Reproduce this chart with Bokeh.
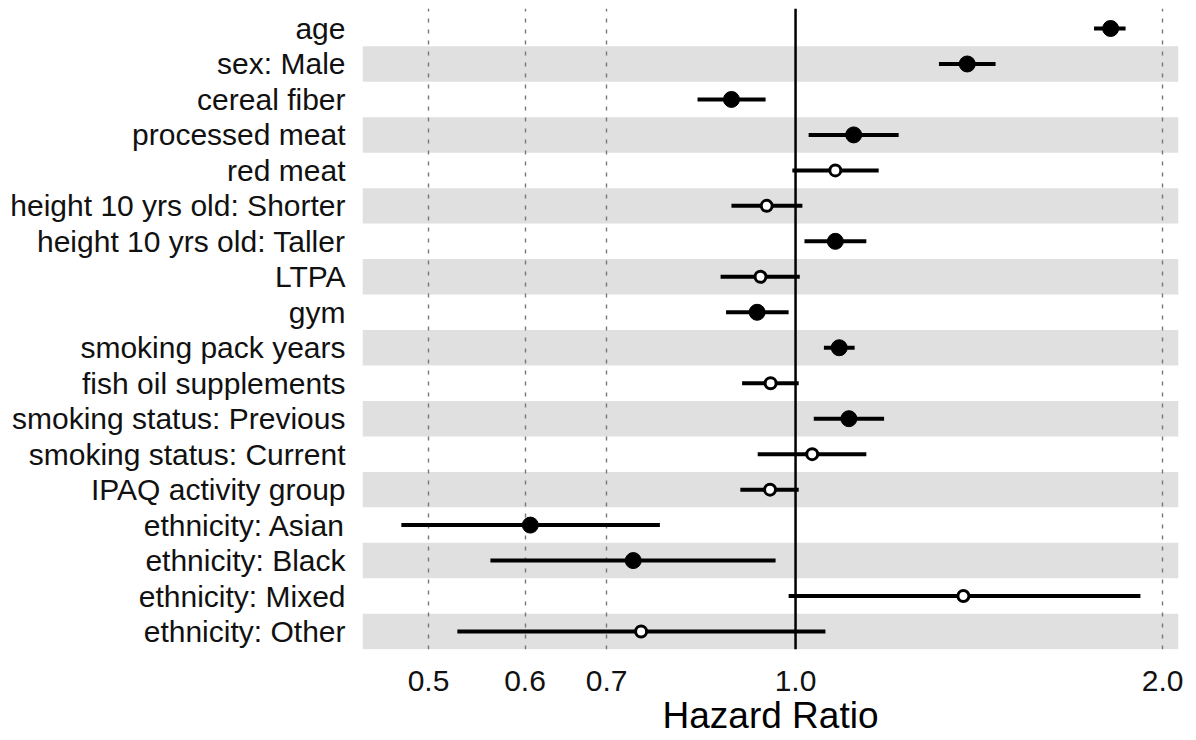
from bokeh.plotting import figure
from bokeh.models import (FixedTicker, CustomJSTickFormatter, Span, BoxAnnotation,
                          ColumnDataSource)
from bokeh.embed import file_html
from bokeh.resources import INLINE

labels = [
    "age", "sex: Male", "cereal fiber", "processed meat", "red meat",
    "height 10 yrs old: Shorter", "height 10 yrs old: Taller", "LTPA", "gym",
    "smoking pack years", "fish oil supplements", "smoking status: Previous",
    "smoking status: Current", "IPAQ activity group", "ethnicity: Asian",
    "ethnicity: Black", "ethnicity: Mixed", "ethnicity: Other",
]
hr = [1.813, 1.383, 0.886, 1.116, 1.078, 0.947, 1.078, 0.936, 0.930,
      1.086, 0.954, 1.106, 1.032, 0.953, 0.606, 0.736, 1.373, 0.747]
lo = [1.757, 1.311, 0.831, 1.025, 0.994, 0.886, 1.017, 0.868, 0.877,
      1.055, 0.904, 1.035, 0.931, 0.901, 0.475, 0.562, 0.987, 0.528]
hi = [1.865, 1.459, 0.945, 1.215, 1.170, 1.013, 1.143, 1.008, 0.987,
      1.118, 1.006, 1.182, 1.143, 1.006, 0.774, 0.963, 1.918, 1.058]
x_ticks = [0.5, 0.6, 0.7, 1.0, 2.0]
ref_value = 1.0
x_label = "Hazard Ratio"

FONT = "Liberation Sans"
n = len(labels)
ypos = list(range(n - 1, -1, -1))
sig = [(l > ref_value) or (h < ref_value) for l, h in zip(lo, hi)]

src = ColumnDataSource(dict(y=ypos, hr=hr, lo=lo, hi=hi))
src_f = ColumnDataSource(dict(y=[y for y, s in zip(ypos, sig) if s],
                              hr=[v for v, s in zip(hr, sig) if s]))
src_o = ColumnDataSource(dict(y=[y for y, s in zip(ypos, sig) if not s],
                              hr=[v for v, s in zip(hr, sig) if not s]))

x0, x1 = 0.4414, 2.061
y0, y1 = -0.507, n - 1 + 0.564

p = figure(width=1188, height=740, x_axis_type="log",
           x_range=(x0, x1), y_range=(y0, y1),
           output_backend="svg", toolbar_location=None,
           min_border_left=362, min_border_right=10,
           min_border_top=8, min_border_bottom=91)
p.outline_line_color = None
p.background_fill_color = "white"

# alternating bands
for i, y in enumerate(ypos):
    if i % 2 == 1:
        p.add_layout(BoxAnnotation(bottom=y - 0.5, top=y + 0.5,
                                   fill_color="#e0e0e0", fill_alpha=1.0,
                                   line_color=None, level="image"))

p.ygrid.visible = False
p.xgrid.ticker = FixedTicker(ticks=[t for t in x_ticks if t != ref_value])
p.xgrid.grid_line_color = "#777777"
p.xgrid.grid_line_dash = "4 7"
p.xgrid.grid_line_width = 1.4

p.add_layout(Span(location=ref_value, dimension="height",
                  line_color="black", line_width=2.5))

p.segment(x0="lo", y0="y", x1="hi", y1="y", source=src,
          line_color="black", line_width=4)
p.scatter(x="hr", y="y", source=src_f, size=16, fill_color="black",
          line_color="black", line_width=1)
p.scatter(x="hr", y="y", source=src_o, size=11, fill_color="white",
          line_color="black", line_width=3)

xa = p.xaxis[0]
xa.ticker = FixedTicker(ticks=x_ticks)
xa.formatter = CustomJSTickFormatter(code="return tick.toFixed(1);")
xa.axis_line_color = None
xa.major_tick_line_color = None
xa.minor_tick_line_color = None
xa.major_tick_out = 0
xa.minor_tick_out = 0
xa.major_label_text_font = FONT
xa.major_label_text_font_size = "30px"
xa.major_label_text_color = "#111111"
xa.major_label_standoff = 21
xa.axis_label = x_label
xa.axis_label_text_font = FONT
xa.axis_label_text_font_size = "37px"
xa.axis_label_text_font_style = "normal"
xa.axis_label_text_color = "black"
xa.axis_label_standoff = 1

ya = p.yaxis[0]
ya.ticker = FixedTicker(ticks=ypos)
ya.major_label_overrides = {y: lab for y, lab in zip(ypos, labels)}
ya.axis_line_color = None
ya.major_tick_line_color = None
ya.minor_tick_line_color = None
ya.major_tick_out = 0
ya.minor_tick_out = 0
ya.major_label_text_font = FONT
ya.major_label_text_font_size = "30px"
ya.major_label_text_color = "#111111"
ya.major_label_standoff = 17

open("out.html", "w").write(file_html(p, INLINE))
